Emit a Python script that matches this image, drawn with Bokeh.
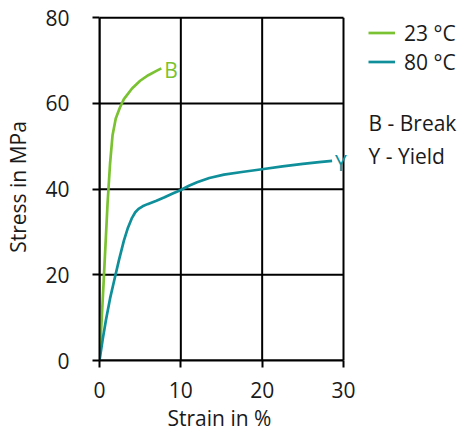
from bokeh.plotting import figure
from bokeh.models import Legend, LegendItem, Label, FixedTicker, Range1d, Title
from bokeh.embed import file_html
from bokeh.resources import INLINE
from bokeh.core.properties import value

strain_23 = [0, 0.5, 1.0, 1.3, 1.6, 2.0, 2.5, 3.0, 4.0, 5.0, 6.0, 7.0, 7.6]
stress_23 = [0, 18, 37, 46, 52.5, 56.5, 59, 61, 63.5, 65.3, 66.6, 67.6, 68.2]
strain_80 = [0, 0.4, 0.8, 1.3, 1.8, 2.4, 3.0, 3.5, 4.0, 4.4, 4.8, 5.3, 5.9, 7.0, 8.0, 9.0,
             10.0, 11.0, 12.0, 13.5, 15.3, 17.5, 20.2, 22.5, 25, 27, 28.6]
stress_80 = [0, 5, 9.5, 14.5, 18.6, 23.5, 28, 31, 33.3, 34.6, 35.4, 36.0, 36.5, 37.3, 38.1,
             39, 39.8, 40.8, 41.6, 42.6, 43.4, 44, 44.7, 45.3, 45.9, 46.3, 46.6]
x_ticks = [0, 10, 20, 30]
y_ticks = [0, 20, 40, 60, 80]
series_names = ["23 °C", "80 °C"]
series_colors = ["#7AC231", "#0F8F9A"]
notes = ["B - Break", "Y - Yield"]
curve_marks = ["B", "Y"]
x_title = "Strain in %"
y_title = "Stress in MPa"

TXT = "#1a1a1a"
FONT = "Open Sans"
FS = "21px"

W, H = 462, 434
LEFT, BOTTOM = 99, 74
FRAME_W_30 = 244           # pixels spanned by the 0..30 strain axis
X_END = x_ticks[-1] * (W - LEFT) / FRAME_W_30   # frame runs to the right edge
Y_END = 81

p = figure(width=W, height=H, output_backend="svg", toolbar_location=None,
           x_range=Range1d(0, X_END), y_range=Range1d(0, Y_END),
           min_border_left=LEFT, min_border_right=0, min_border_top=13,
           min_border_bottom=BOTTOM)

p.outline_line_color = None
p.xgrid.visible = False
p.ygrid.visible = False
for ax in (p.xaxis, p.yaxis):
    ax.axis_line_color = "black"
    ax.axis_line_width = 2
    ax.major_tick_line_color = "black"
    ax.major_tick_line_width = 2
    ax.major_tick_out = 7
    ax.major_tick_in = 0
    ax.minor_tick_line_color = None
    ax.major_label_text_font = FONT
    ax.major_label_text_font_size = FS
    ax.major_label_text_color = TXT
    ax.axis_label_text_font = FONT
    ax.axis_label_text_font_size = FS
    ax.axis_label_text_font_style = "normal"
    ax.axis_label_text_color = TXT
p.xaxis.ticker = FixedTicker(ticks=x_ticks)
p.yaxis.ticker = FixedTicker(ticks=y_ticks)
p.xaxis.bounds = (x_ticks[0], x_ticks[-1])
p.yaxis.bounds = (y_ticks[0], y_ticks[-1])
p.yaxis.axis_label = y_title
p.xaxis.major_label_standoff = 14
p.yaxis.major_label_standoff = 23
p.yaxis.axis_label_standoff = 10

# x-axis title, centred under the 0..30 part of the axis
p.add_layout(Title(text=x_title, align="left", offset=68, standoff=3,
                   text_font=FONT, text_font_size=FS, text_font_style="normal",
                   text_color=TXT), "below")

# grid lines limited to the 0..30 x 0..80 box
n_y, n_x = len(y_ticks), len(x_ticks)
p.segment(x0=[x_ticks[0]] * n_y, x1=[x_ticks[-1]] * n_y, y0=y_ticks, y1=y_ticks,
          line_color="black", line_width=2)
p.segment(x0=x_ticks, x1=x_ticks, y0=[y_ticks[0]] * n_x, y1=[y_ticks[-1]] * n_x,
          line_color="black", line_width=2)

r1 = p.line(strain_23, stress_23, line_color=series_colors[0], line_width=2.7)
r2 = p.line(strain_80, stress_80, line_color=series_colors[1], line_width=2.7)

p.text(x=[strain_23[-1]], y=[stress_23[-1]], text=[curve_marks[0]], text_color=series_colors[0],
       text_font=value(FONT), text_font_size=FS, x_offset=3, y_offset=2,
       text_baseline="middle", text_align="left")
p.text(x=[strain_80[-1]], y=[stress_80[-1]], text=[curve_marks[1]], text_color=series_colors[1],
       text_font=value(FONT), text_font_size=FS, x_offset=3, y_offset=2,
       text_baseline="middle", text_align="left")

legend = Legend(items=[LegendItem(label=series_names[0], renderers=[r1]),
                       LegendItem(label=series_names[1], renderers=[r2])],
                location=(269, 284), border_line_color=None, background_fill_alpha=0,
                label_text_font=FONT, label_text_font_size=FS, label_text_color=TXT,
                glyph_width=27, glyph_height=29, label_height=29, spacing=0,
                padding=0, margin=0, label_standoff=9)
p.add_layout(legend, "center")

note_x = x_ticks[-1] * 269 / FRAME_W_30
p.add_layout(Label(x=note_x, y=55.5, text=notes[0], text_font=FONT, text_font_size=FS,
                   text_color=TXT, text_baseline="middle"))
p.add_layout(Label(x=note_x, y=47.8, text=notes[1], text_font=FONT, text_font_size=FS,
                   text_color=TXT, text_baseline="middle"))

open("out.html", "w").write(file_html(p, INLINE))
